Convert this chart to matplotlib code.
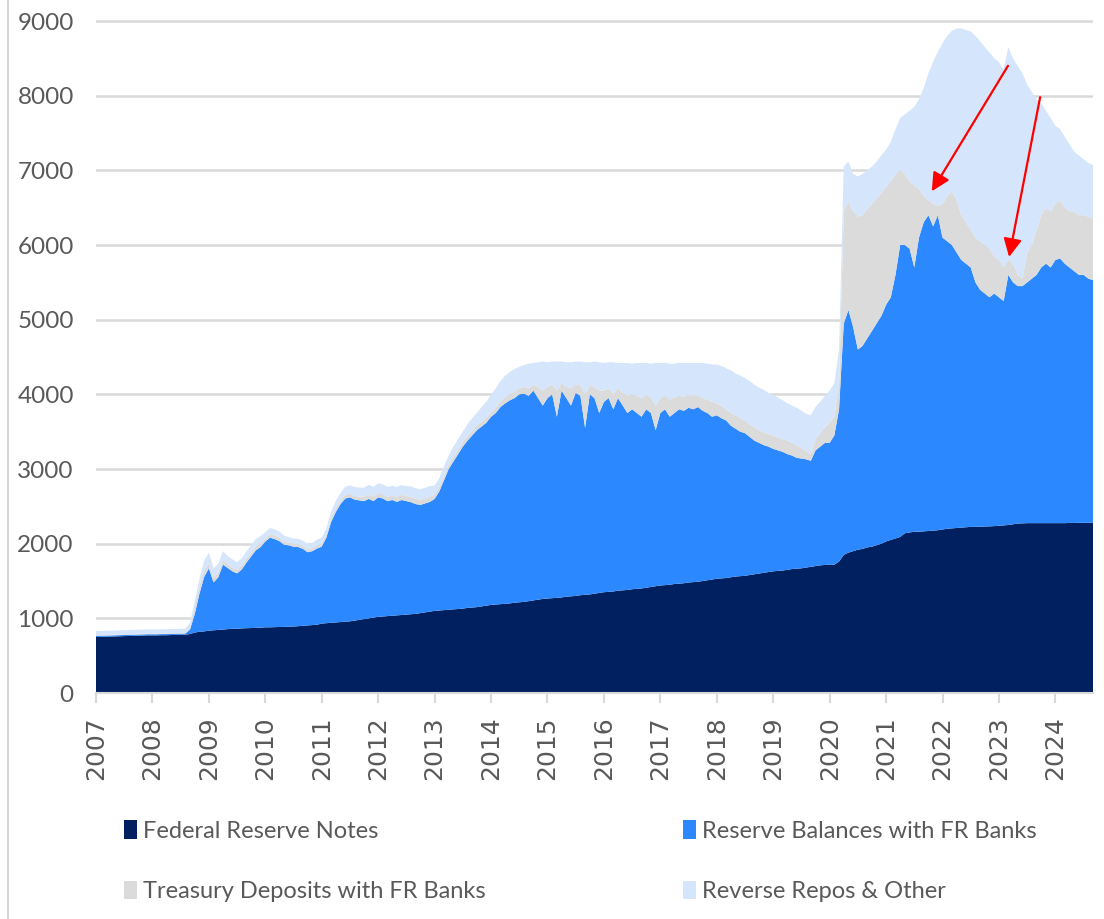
import numpy as np
import matplotlib
matplotlib.use('Agg')
import matplotlib.pyplot as plt
from matplotlib.lines import Line2D

# monthly values, Jan 2007 - Sep 2024, $bn
fed_notes = [
    750, 752, 754, 756, 758, 760, 762, 764, 766, 768, 770, 772,
    772, 772, 774, 774, 776, 778, 780, 782, 790, 810, 820, 825,
    835, 840, 845, 850, 855, 860, 862, 865, 868, 870, 872, 875,
    880, 880, 882, 884, 886, 888, 890, 895, 900, 905, 910, 915,
    930, 935, 940, 945, 950, 955, 960, 970, 980, 990, 1000, 1010,
    1020, 1025, 1030, 1035, 1040, 1045, 1050, 1055, 1060, 1070, 1080, 1090,
    1100, 1105, 1110, 1115, 1120, 1125, 1130, 1140, 1145, 1150, 1160, 1170,
    1180, 1185, 1190, 1195, 1200, 1210, 1215, 1220, 1230, 1240, 1250, 1260,
    1265, 1270, 1275, 1280, 1290, 1295, 1300, 1310, 1315, 1320, 1330, 1340,
    1350, 1355, 1360, 1370, 1375, 1380, 1390, 1395, 1400, 1410, 1420, 1430,
    1440, 1445, 1450, 1460, 1465, 1470, 1480, 1485, 1490, 1500, 1510, 1520,
    1530, 1535, 1540, 1550, 1560, 1565, 1570, 1580, 1590, 1600, 1610, 1620,
    1630, 1635, 1640, 1650, 1660, 1665, 1670, 1680, 1690, 1700, 1710, 1715,
    1720, 1720, 1760, 1850, 1880, 1900, 1920, 1930, 1950, 1960, 1980, 2000,
    2030, 2050, 2070, 2090, 2140, 2150, 2160, 2160, 2165, 2170, 2175, 2180,
    2190, 2200, 2205, 2210, 2215, 2220, 2225, 2225, 2228, 2230, 2232, 2235,
    2240, 2245, 2250, 2260, 2270, 2272, 2275, 2275, 2275, 2275, 2275, 2275,
    2275, 2275, 2275, 2278, 2278, 2280, 2280, 2280, 2280,
]

reserve_balances = [
    15, 15, 15, 15, 15, 15, 15, 15, 15, 15, 15, 15,
    15, 15, 15, 15, 15, 15, 15, 15, 60, 250, 510, 730,
    835, 640, 705, 870, 820, 770, 740, 790, 880, 960, 1040, 1080,
    1150, 1200, 1180, 1150, 1100, 1090, 1070, 1060, 1030, 980, 990, 1020,
    1030, 1150, 1350, 1480, 1580, 1650, 1660, 1620, 1600, 1580, 1600, 1560,
    1600, 1580, 1540, 1550, 1520, 1540, 1520, 1500, 1470, 1450, 1460, 1470,
    1500, 1595, 1740, 1885, 1980, 2075, 2170, 2240, 2305, 2370, 2410, 2450,
    2520, 2565, 2640, 2685, 2720, 2740, 2785, 2790, 2750, 2810, 2700, 2590,
    2685, 2730, 2425, 2770, 2660, 2555, 2720, 2670, 2235, 2680, 2620, 2410,
    2550, 2595, 2440, 2580, 2475, 2370, 2410, 2355, 2300, 2390, 2330, 2090,
    2310, 2355, 2250, 2290, 2335, 2310, 2340, 2315, 2340, 2280, 2240, 2180,
    2190, 2145, 2110, 2030, 1980, 1935, 1910, 1850, 1790, 1750, 1710, 1680,
    1640, 1615, 1590, 1550, 1520, 1485, 1470, 1450, 1420, 1550, 1590, 1635,
    1630, 1730, 2040, 3100, 3250, 3000, 2680, 2720, 2800, 2890, 2970, 3050,
    3170, 3250, 3530, 3910, 3860, 3800, 3540, 3940, 4140, 4230, 4075, 4220,
    3910, 3850, 3795, 3690, 3585, 3530, 3475, 3275, 3172, 3120, 3068, 3115,
    3060, 3005, 3350, 3240, 3180, 3178, 3225, 3275, 3325, 3425, 3475, 3425,
    3525, 3545, 3475, 3422, 3372, 3320, 3320, 3270, 3250,
]

treasury_deposits = [
    10, 10, 10, 10, 10, 10, 10, 10, 10, 10, 10, 10,
    10, 10, 10, 10, 10, 10, 10, 10, 30, 80, 100, 90,
    70, 60, 60, 60, 50, 50, 50, 50, 50, 50, 50, 50,
    40, 50, 50, 50, 40, 40, 40, 40, 40, 40, 40, 40,
    40, 40, 50, 50, 50, 50, 50, 50, 50, 60, 60, 60,
    60, 60, 60, 60, 70, 70, 70, 70, 70, 70, 70, 70,
    60, 60, 55, 60, 60, 60, 65, 60, 60, 70, 60, 70,
    60, 70, 70, 80, 80, 90, 80, 90, 100, 80, 150, 200,
    150, 130, 350, 100, 150, 230, 110, 140, 450, 120, 150, 300,
    150, 130, 200, 130, 170, 230, 200, 230, 250, 190, 210, 330,
    200, 180, 230, 210, 180, 190, 170, 180, 160, 170, 180, 200,
    160, 160, 150, 170, 180, 180, 170, 170, 180, 170, 170, 170,
    180, 170, 170, 180, 170, 170, 140, 110, 90, 150, 180, 210,
    270, 250, 350, 1500, 1450, 1550, 1780, 1750, 1730, 1700, 1670, 1650,
    1580, 1550, 1350, 1000, 950, 900, 1100, 650, 350, 200, 300, 120,
    450, 600, 720, 700, 600, 550, 500, 600, 650, 650, 650, 500,
    500, 450, 200, 250, 150, 100, 400, 450, 600, 700, 750, 750,
    750, 780, 750, 750, 800, 800, 800, 830, 820,
]

reverse_repos = [
    55, 55, 55, 55, 55, 55, 55, 55, 55, 55, 55, 55,
    55, 55, 55, 55, 55, 55, 55, 55, 60, 90, 100, 130,
    140, 130, 120, 120, 110, 110, 100, 100, 100, 100, 100, 100,
    80, 80, 80, 80, 80, 70, 70, 70, 70, 70, 70, 80,
    80, 80, 90, 100, 100, 110, 110, 120, 120, 120, 130, 130,
    130, 130, 130, 130, 130, 130, 130, 140, 140, 140, 140, 140,
    120, 120, 125, 120, 140, 140, 135, 160, 170, 160, 200, 210,
    240, 260, 280, 290, 300, 300, 290, 290, 330, 290, 330, 390,
    330, 310, 390, 290, 330, 350, 310, 320, 430, 310, 340, 380,
    370, 350, 430, 340, 400, 440, 410, 440, 470, 430, 450, 570,
    470, 440, 480, 450, 440, 450, 430, 440, 430, 470, 480, 500,
    520, 540, 550, 570, 560, 570, 570, 580, 570, 570, 570, 550,
    540, 540, 520, 500, 500, 500, 500, 500, 520, 430, 420, 420,
    430, 450, 450, 600, 540, 500, 540, 550, 520, 500, 500, 500,
    500, 530, 600, 700, 800, 950, 1050, 1200, 1450, 1700, 1900, 2070,
    2150, 2150, 2150, 2300, 2500, 2580, 2660, 2700, 2680, 2650, 2630, 2650,
    2650, 2650, 2850, 2750, 2800, 2750, 2250, 2050, 1750, 1500, 1300, 1250,
    1050, 950, 950, 900, 800, 800, 750, 720, 720,
]

series_labels = ['Federal Reserve Notes', 'Reserve Balances with FR Banks',
                 'Treasury Deposits with FR Banks', 'Reverse Repos & Other']
series_colors = ['#002060', '#2B88FF', '#DBDBDB', '#D5E5FB']
year_ticks = list(range(2007, 2025))

x = 2007 + np.arange(len(fed_notes)) / 12.0

label_font = ['Lato', 'DejaVu Sans']
text_grey = '#595959'

fig = plt.figure(figsize=(11.04, 9.19), dpi=100)
ax = fig.add_axes([96 / 1104, 1 - 693 / 919, 997 / 1104, (693 - 17.3) / 919])

polys = ax.stackplot(x, fed_notes, reserve_balances, treasury_deposits, reverse_repos,
                     colors=series_colors, labels=series_labels, linewidth=0)

ax.set_xlim(2007, x[-1])
ax.set_ylim(0, 9050)
ax.set_yticks(range(0, 9001, 1000))
ax.set_xticks(year_ticks)
ax.set_xticklabels([str(y) for y in year_ticks], rotation=90, fontsize=18,
                   color=text_grey, family='DejaVu Sans')
for lab in ax.get_yticklabels():
    lab.set_family(label_font)
    lab.set_fontsize(17.5)
    lab.set_color(text_grey)

ax.set_axisbelow(True)
ax.grid(axis='y', color='#D9D9D9', linewidth=1.8)
for s in ['top', 'right', 'left']:
    ax.spines[s].set_visible(False)
ax.spines['bottom'].set_color('#D9D9D9')
ax.spines['bottom'].set_linewidth(1.5)
ax.tick_params(axis='y', length=0, pad=16)
ax.tick_params(axis='x', length=7, width=1.5, color='#D9D9D9', pad=10)

# red arrows
arrow_style = dict(arrowstyle='-|>,head_length=0.5,head_width=0.25', color='#FF0000',
                   lw=1.6, mutation_scale=22, shrinkA=0, shrinkB=0)
ax.annotate('', xy=(2021.81, 6720), xytext=(2023.16, 8400), arrowprops=arrow_style)
ax.annotate('', xy=(2023.18, 5840), xytext=(2023.73, 7980), arrowprops=arrow_style)

# legend in two columns
left_handles = [polys[0], polys[2]]
right_handles = [polys[1], polys[3]]
leg_kw = dict(loc='upper left', frameon=False, ncol=1, borderpad=0, borderaxespad=0,
              handlelength=0.55, handleheight=0.85, handletextpad=0.25, labelspacing=1.65,
              prop={'family': label_font, 'size': 17})
leg1 = fig.legend(left_handles, [series_labels[0], series_labels[2]],
                  bbox_to_anchor=(124 / 1104, 1 - 820 / 919), **leg_kw)
leg2 = fig.legend(right_handles, [series_labels[1], series_labels[3]],
                  bbox_to_anchor=(683 / 1104, 1 - 820 / 919), **leg_kw)
for leg in (leg1, leg2):
    for t in leg.get_texts():
        t.set_color(text_grey)

# thin frame line on the left edge
fig.add_artist(Line2D([8 / 1104, 8 / 1104], [0, 1], color='#D0D0D0', lw=1.2))

fig.savefig('out.png', dpi=100)
